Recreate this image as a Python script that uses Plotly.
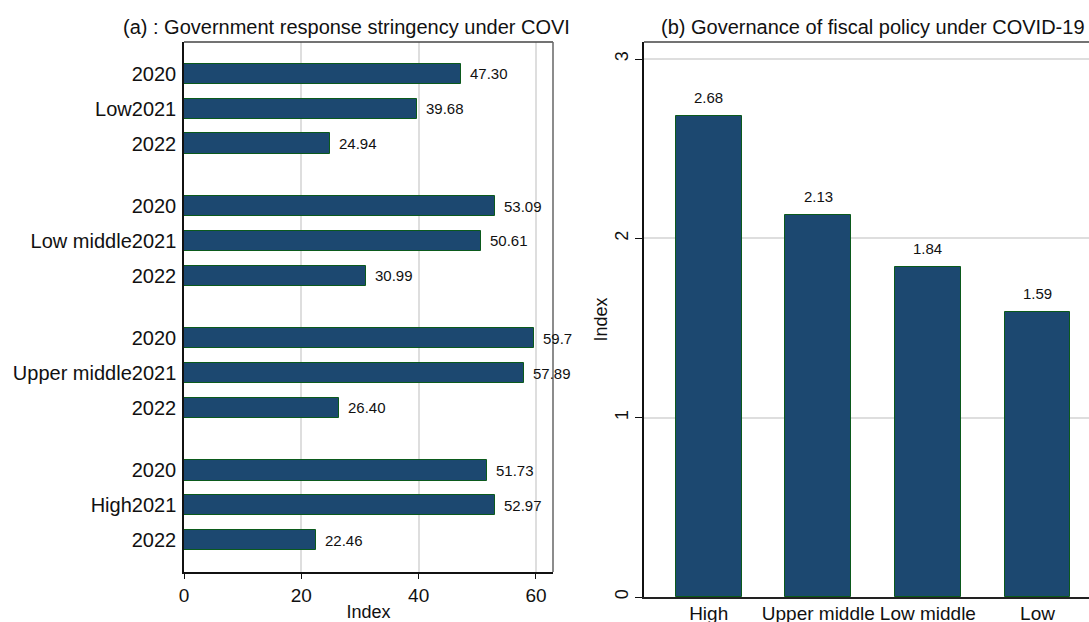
import plotly.graph_objects as go

# ---- data -------------------------------------------------------------
income_groups = ["Low", "Low middle", "Upper middle", "High"]
years = ["2020", "2021", "2022"]
# stringency index by income group (values kept as printed strings)
stringency_2020 = ["47.30", "53.09", "59.7", "51.73"]
stringency_2021 = ["39.68", "50.61", "57.89", "52.97"]
stringency_2022 = ["24.94", "30.99", "26.40", "22.46"]

fiscal_groups = ["High", "Upper middle", "Low middle", "Low"]
fiscal_governance = ["2.68", "2.13", "1.84", "1.59"]

x_ticks_a = [0, 20, 40, 60]
y_ticks_b = [0, 1, 2, 3]

# ---- styling -------------------------------------------------------------
W, H = 1089, 622
FONT = "Liberation Sans, Arial, sans-serif"
BAR_FILL = "#1c4870"
BAR_LINE = "#0b5a1c"
GRID = "#dedede"

fig = go.Figure()

# ---- panel (a): horizontal bars, grouped by income level -----------------
GROUP_STEP = 3.8
series = [stringency_2020, stringency_2021, stringency_2022]
pos, vals, texts, ticktext = [], [], [], []
for g, grp in enumerate(income_groups):
    for k, yr in enumerate(years):
        pos.append(g * GROUP_STEP + k)
        s = series[k][g]
        vals.append(float(s))
        texts.append(s)
        ticktext.append(grp + yr if k == 1 else yr)

fig.add_trace(go.Bar(
    x=vals, y=pos, orientation="h", width=0.58,
    marker=dict(color=BAR_FILL, line=dict(color=BAR_LINE, width=1)),
    xaxis="x", yaxis="y", showlegend=False, hoverinfo="x",
))
for v, p, t in zip(vals, pos, texts):
    fig.add_annotation(x=v, y=p, xref="x", yref="y", text=t, showarrow=False,
                       xanchor="left", yanchor="middle", xshift=7,
                       font=dict(size=15, color="#111", family=FONT))

# ---- panel (b): vertical bars ---------------------------------------------
fvals = [float(s) for s in fiscal_governance]
fig.add_trace(go.Bar(
    x=fiscal_groups, y=fvals, width=0.6,
    marker=dict(color=BAR_FILL, line=dict(color=BAR_LINE, width=1)),
    xaxis="x2", yaxis="y2", showlegend=False, hoverinfo="y",
))
for c, v, t in zip(fiscal_groups, fvals, fiscal_governance):
    fig.add_annotation(x=c, y=v, xref="x2", yref="y2", text=t, showarrow=False,
                       xanchor="center", yanchor="bottom", yshift=8,
                       font=dict(size=15, color="#111", family=FONT))

# ---- panel titles ------------------------------------------------------------
fig.add_annotation(x=346 / W, y=1 - 27 / H, xref="paper", yref="paper",
                   text="(a) : Government response stringency under COVI",
                   showarrow=False, xanchor="center", yanchor="middle",
                   font=dict(size=20, color="#111", family=FONT))
fig.add_annotation(x=873 / W, y=1 - 27 / H, xref="paper", yref="paper",
                   text="(b) Governance of fiscal policy under COVID-19",
                   showarrow=False, xanchor="center", yanchor="middle",
                   font=dict(size=20, color="#111", family=FONT))

# frame lines on the top / right of panel (a) and top of panel (b)
fig.add_shape(type="line", xref="x domain", yref="y domain", x0=0, x1=1, y0=1, y1=1,
              line=dict(color="#444", width=1.5))
fig.add_shape(type="line", xref="x domain", yref="y domain", x0=1, x1=1, y0=0, y1=1,
              line=dict(color="#666", width=1.5))
fig.add_shape(type="line", xref="x2 domain", yref="y2 domain", x0=0, x1=1, y0=1, y1=1,
              line=dict(color="#444", width=1.5))

fig.update_layout(
    width=W, height=H,
    margin=dict(l=0, r=0, t=0, b=0, autoexpand=False),
    paper_bgcolor="white", plot_bgcolor="white",
    font=dict(family=FONT, color="#111"),
    bargap=0,
    xaxis=dict(
        domain=[184 / W, 553 / W], anchor="y", automargin=False,
        range=[0, 62.9], tickvals=x_ticks_a,
        ticks="outside", ticklen=5, tickcolor="#111",
        tickfont=dict(size=19, color="#111", family=FONT),
        showgrid=True, gridcolor=GRID, gridwidth=1.5, zeroline=False,
        showline=True, linecolor="#111", linewidth=1.5,
        title=dict(text="Index", font=dict(size=18, family=FONT, color="#111"), standoff=4),
    ),
    yaxis=dict(
        domain=[50 / H, 580 / H], anchor="x", automargin=False,
        range=[14.32, -0.92], tickvals=pos, ticktext=ticktext,
        ticks="", tickfont=dict(size=20, color="#111", family=FONT), ticklabelstandoff=2,
        showgrid=False, zeroline=False,
        showline=True, linecolor="#111", linewidth=1.5,
    ),
    xaxis2=dict(
        domain=[644 / W, 1.0], anchor="y2", automargin=False,
        range=[-0.59, 3.47], type="category",
        ticks="", tickfont=dict(size=19, color="#111", family=FONT), ticklabelstandoff=-2,
        showgrid=False, zeroline=False,
        showline=True, linecolor="#222", linewidth=1.5,
    ),
    yaxis2=dict(
        domain=[25 / H, 580 / H], anchor="x2", automargin=False,
        range=[0, 3.095], tickvals=y_ticks_b,
        tickangle=-90, ticks="outside", ticklen=7, tickcolor="#111",
        tickfont=dict(size=18, color="#111", family=FONT),
        showgrid=True, gridcolor=GRID, gridwidth=1.5, zeroline=False,
        showline=True, linecolor="#111", linewidth=1.5,
        title=dict(text="Index", font=dict(size=18, family=FONT, color="#111"), standoff=0),
    ),
)

fig.write_html("out.html")
